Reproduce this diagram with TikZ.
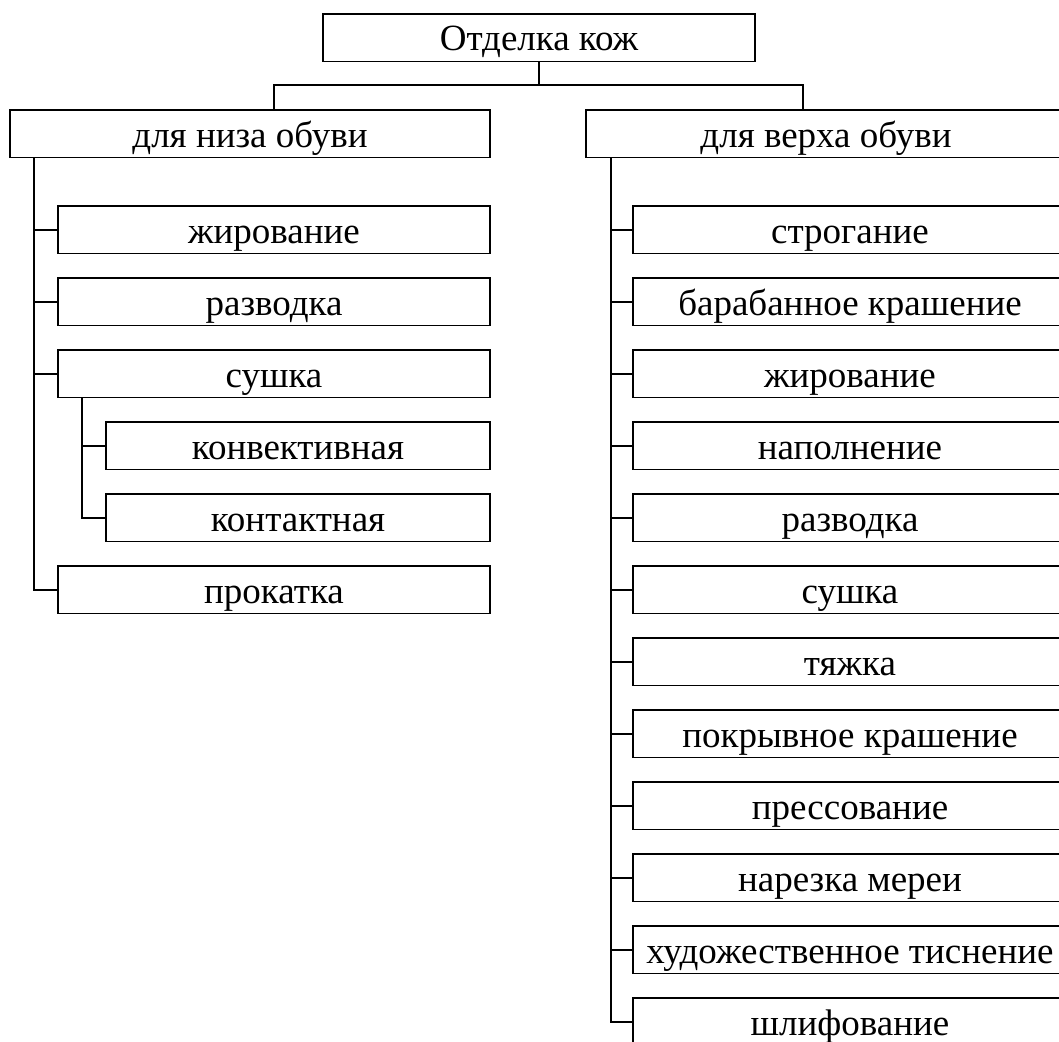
\documentclass[tikz,border=0pt]{standalone}
\usepackage{fontspec}
\setmainfont{Liberation Serif}
\begin{document}
\begin{tikzpicture}[x=1pt,y=-1pt,
  box/.style={draw,line width=1.9pt,rectangle,inner sep=0pt,outer sep=0pt,
    text height=37pt,text depth=10.5pt,anchor=north west,
    font=\fontsize{37}{40}\selectfont},
  wire/.style={line width=1.9pt}]
\useasboundingbox (0,0) rectangle (1059,1041);
\clip (0,0) rectangle (1059,1041);
% top
\node[box,minimum width=432pt] (top) at (323,14) {Отделка кож};
\node[box,minimum width=480pt] (lh) at (10,110) {для низа обуви};
\node[box,minimum width=480pt] (rh) at (586,110) {для верха обуви};
% left children
\node[box,minimum width=432pt] (l1) at (58,206) {жирование};
\node[box,minimum width=432pt] (l2) at (58,278) {разводка};
\node[box,minimum width=432pt] (l3) at (58,350) {сушка};
\node[box,minimum width=384pt] (s1) at (106,422) {конвективная};
\node[box,minimum width=384pt] (s2) at (106,494) {контактная};
\node[box,minimum width=432pt] (l4) at (58,566) {прокатка};
% right children
\node[box,minimum width=434pt] (r1) at (633,206) {строгание};
\node[box,minimum width=434pt] (r2) at (633,278) {барабанное крашение};
\node[box,minimum width=434pt] (r3) at (633,350) {жирование};
\node[box,minimum width=434pt] (r4) at (633,422) {наполнение};
\node[box,minimum width=434pt] (r5) at (633,494) {разводка};
\node[box,minimum width=434pt] (r6) at (633,566) {сушка};
\node[box,minimum width=434pt] (r7) at (633,638) {тяжка};
\node[box,minimum width=434pt] (r8) at (633,710) {покрывное крашение};
\node[box,minimum width=434pt] (r9) at (633,782) {прессование};
\node[box,minimum width=434pt] (r10) at (633,854) {нарезка мереи};
\node[box,minimum width=434pt] (r11) at (633,926) {художественное тиснение};
\node[box,minimum width=434pt] (r12) at (633,998) {шлифование};
% coordinates
\coordinate (ls) at (274,85);
\coordinate (rs) at (803,85);
\coordinate (lt) at (34,0);
\coordinate (st) at (82,0);
\coordinate (rt) at (611,0);
% top connectors
\draw[wire] (top.south) -- (top.south |- ls);
\draw[wire] (ls |- lh.north) -- (ls) -- (rs) -- (rs |- rh.north);
% left trunk
\draw[wire] (lt |- lh.south) |- (l4.west);
\foreach \n in {l1,l2,l3} \draw[wire] (lt |- \n.west) -- (\n.west);
\draw[wire] (st |- l3.south) |- (s2.west);
\draw[wire] (st |- s1.west) -- (s1.west);
% right trunk
\draw[wire] (rt |- rh.south) |- (r12.west);
\foreach \n in {r1,r2,r3,r4,r5,r6,r7,r8,r9,r10,r11} \draw[wire] (rt |- \n.west) -- (\n.west);
\end{tikzpicture}
\end{document}
